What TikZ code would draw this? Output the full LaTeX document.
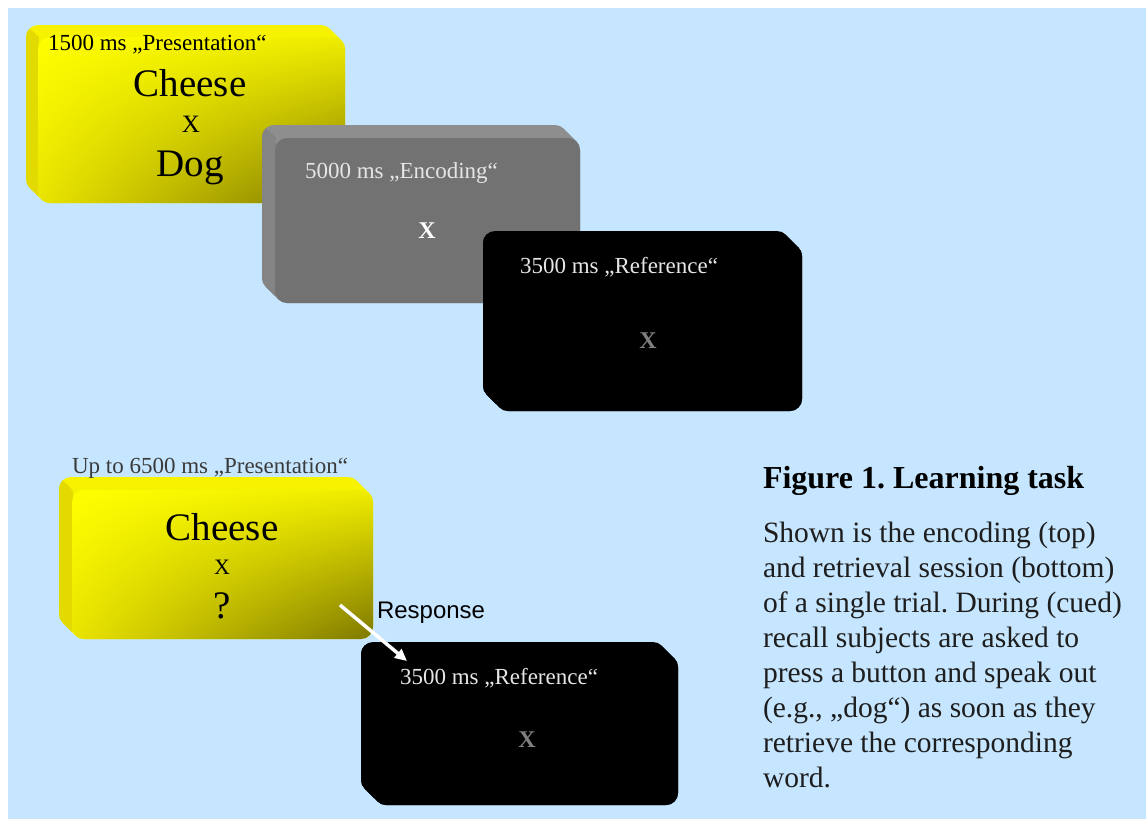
\documentclass[tikz,border=0pt]{standalone}
\usepackage{fontspec}
\setmainfont{Liberation Serif}
\newfontfamily\respfont{Liberation Sans}
\usetikzlibrary{arrows.meta,calc,shadings}
\frenchspacing
\definecolor{bgblue}{HTML}{C6E6FF}
\definecolor{ytop}{HTML}{F6F200}
\definecolor{yleft}{HTML}{E2DA00}
\definecolor{yA}{HTML}{FFFF00}
\definecolor{yB}{HTML}{F0EC00}
\definecolor{yC}{HTML}{EAE400}
\definecolor{yD}{HTML}{7E7800}
\definecolor{gtop}{HTML}{8E8E8E}
\definecolor{gleft}{HTML}{848484}
\definecolor{gface}{HTML}{727272}
\definecolor{ltxt}{HTML}{E6E6E6}
\definecolor{xgray}{HTML}{808080}
\definecolor{captxt}{HTML}{3A3A3A}
\definecolor{bodytxt}{HTML}{1E1E1E}
\newcommand{\fsz}[1]{\fontsize{#1}{#1}\selectfont}
% x1 y1 x2 y2 depth topcolor leftcolor facestyle
\newcommand{\bevbox}[8]{%
  \foreach \k in {0,...,#5} {\fill[#6, rounded corners=12pt, shift={(-\k,-\k)}] (#1,#2) rectangle (#3,#4);}
  \begin{scope}
    \clip (#1,#2) -- (#1-40,#2-40) -- (#1-40,#4+5) -- (#1,#4+5) -- cycle;
    \foreach \k in {0,...,#5} {\fill[#7, rounded corners=12pt, shift={(-\k,-\k)}] (#1,#2) rectangle (#3,#4);}
  \end{scope}
  \path[#8, rounded corners=12pt] (#1,#2) rectangle (#3,#4);
}
\tikzset{
  txt/.style={inner sep=0pt, outer sep=0pt},
  yface/.style={shade, upper left=yA, upper right=yB, lower left=yC, lower right=yD},
  gfacest/.style={fill=gface},
  bfacest/.style={fill=black},
}
\begin{document}
\begin{tikzpicture}[x=1pt,y=-1pt]
\useasboundingbox (0,0) rectangle (1146,819);
\fill[white] (0,0) rectangle (1146,819);
\fill[bgblue] (8,8) rectangle (1146,819);

% top row
\bevbox{38}{37}{345}{203}{12}{ytop}{yleft}{yface}
\bevbox{275}{138}{580}{303}{13}{gtop}{gleft}{gfacest}
\bevbox{496}{244}{802}{411}{13}{black}{black}{bfacest}
% bottom row
\bevbox{72}{490}{373}{639}{13}{ytop}{yleft}{yface}
\bevbox{374}{655}{678}{805}{13}{black}{black}{bfacest}

% texts top
\node[txt, anchor=base west, font=\fsz{23}] (t1) at (48,50) {1500 ms „Presentation“};
\node[txt, anchor=base, font=\fsz{39}] (w1) at (190,96) {Cheese};
\node[txt, anchor=base, font=\fsz{25}] (x1) at (191,132) {X};
\node[txt, anchor=base, font=\fsz{39}] (w2) at (190,176) {Dog};

\node[txt, anchor=base west, text=ltxt, font=\fsz{23}] (t2) at (305,178) {5000 ms „Encoding“};
\node[txt, anchor=base, text=white, font=\bfseries\fsz{24}] (x2) at (427,238) {X};

\node[txt, anchor=base west, text=ltxt, font=\fsz{23}] (t3) at (520,273) {3500 ms „Reference“};
\node[txt, anchor=base, text=xgray, font=\bfseries\fsz{24}] (x3) at (648,348) {X};

% texts bottom
\node[txt, anchor=base west, text=captxt, font=\fsz{23}] (t4) at (72,473) {Up to 6500 ms „Presentation“};
\node[txt, anchor=base, font=\fsz{39}] (w3) at (222,540) {Cheese};
\node[txt, anchor=base, font=\fsz{22}] (x4) at (222,574) {X};
\node[txt, anchor=base, font=\fsz{39}] (q) at (222,618) {?};

\node[txt, anchor=base west, font=\respfont\fsz{24}] (resp) at (377,618) {Response};

\node[txt, anchor=base west, text=ltxt, font=\fsz{23}] (t5) at (400,684) {3500 ms „Reference“};
\node[txt, anchor=base, text=xgray, font=\bfseries\fsz{24}] (x5) at (527,747) {X};

\coordinate (aS) at (340,605);
\coordinate (aE) at (407,661);
\draw[white, line width=3.5pt, -{Triangle[length=12pt,width=11pt]}] (aS) -- (aE);

% caption
\node[txt, anchor=base west, font=\bfseries\fsz{32}] (title) at (763,488) {Figure 1. Learning task};
\foreach \i/\s in {0/{Shown is the encoding (top)},1/{and retrieval session (bottom)},2/{of a single trial. During (cued)},3/{recall subjects are asked to},4/{press a button and speak out},5/{(e.g., „dog“) as soon as they},6/{retrieve the corresponding},7/{word.}}
  \node[txt, anchor=base west, text=bodytxt, font=\fsz{29.5}] (body\i) at (763,542+35*\i) {\s};
\end{tikzpicture}
\end{document}
